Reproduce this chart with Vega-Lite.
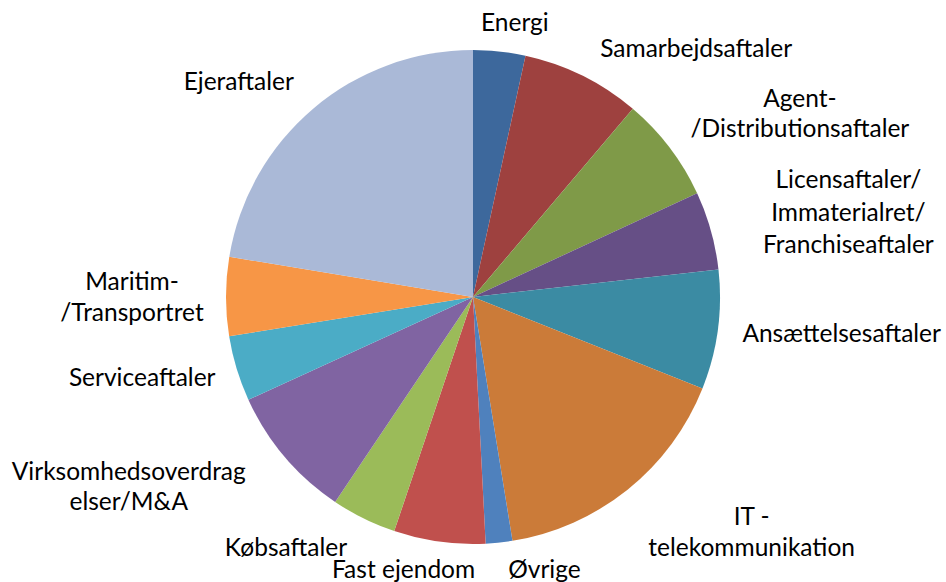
{
  "$schema": "https://vega.github.io/schema/vega-lite/v6.json",
  "width": 946,
  "height": 570,
  "padding": {"top": 12, "left": 0, "right": 0, "bottom": 0},
  "autosize": {"type": "none"},
  "background": "white",
  "config": {"view": {"stroke": null}, "text": {"font": "Lato", "fontSize": 24.5, "color": "#000000"}},
  "data": {"values": [
    {"ord": 1, "kategori": "Energi", "andel": 3.41},
    {"ord": 2, "kategori": "Samarbejdsaftaler", "andel": 7.79},
    {"ord": 3, "kategori": "Agent-\n/Distributionsaftaler", "andel": 6.90},
    {"ord": 4, "kategori": "Licensaftaler/\nImmaterialret/\nFranchiseaftaler", "andel": 5.13},
    {"ord": 5, "kategori": "Ansættelsesaftaler", "andel": 7.81},
    {"ord": 6, "kategori": "IT -\ntelekommunikation", "andel": 16.41},
    {"ord": 7, "kategori": "Øvrige", "andel": 1.74},
    {"ord": 8, "kategori": "Fast ejendom", "andel": 5.98},
    {"ord": 9, "kategori": "Købsaftaler", "andel": 4.26},
    {"ord": 10, "kategori": "Virksomhedsoverdrag\nelser/M&A", "andel": 8.75},
    {"ord": 11, "kategori": "Serviceaftaler", "andel": 4.28},
    {"ord": 12, "kategori": "Maritim-\n/Transportret", "andel": 5.15},
    {"ord": 13, "kategori": "Ejeraftaler", "andel": 22.40}
  ]},
  "encoding": {
    "theta": {"field": "andel", "type": "quantitative", "stack": true},
    "order": {"field": "ord", "type": "quantitative"}
  },
  "layer": [
    {
      "mark": {"type": "arc", "outerRadius": 247},
      "encoding": {
        "color": {
          "field": "ord", "type": "ordinal", "legend": null,
          "scale": {"domain": [1,2,3,4,5,6,7,8,9,10,11,12,13],
            "range": ["#3D689C", "#9E413F", "#7F9A48", "#664F86", "#3B8BA3", "#CB7B39", "#4F81BD", "#C0504D", "#9BBB59", "#8064A2", "#4BACC6", "#F79646", "#AAB9D7"]}
        }
      }
    },
    {"mark": {"type": "text", "radius": 260, "align": "center", "baseline": "alphabetic", "lineBreak": "\n", "lineHeight": 31, "dx": 14, "dy": -7},
     "encoding": {"text": {"condition": {"test": "datum.ord == 1", "field": "kategori"}, "value": ""}}},
    {"mark": {"type": "text", "radius": 260, "align": "center", "baseline": "alphabetic", "lineBreak": "\n", "lineHeight": 31, "dx": 108, "dy": -7},
     "encoding": {"text": {"condition": {"test": "datum.ord == 2", "field": "kategori"}, "value": ""}}},
    {"mark": {"type": "text", "radius": 260, "align": "center", "baseline": "alphabetic", "lineBreak": "\n", "lineHeight": 30, "dx": 120, "dy": -33},
     "encoding": {"text": {"condition": {"test": "datum.ord == 3", "field": "kategori"}, "value": ""}}},
    {"mark": {"type": "text", "radius": 260, "align": "center", "baseline": "alphabetic", "lineBreak": "\n", "lineHeight": 32.5, "dx": 125, "dy": -39},
     "encoding": {"text": {"condition": {"test": "datum.ord == 4", "field": "kategori"}, "value": ""}}},
    {"mark": {"type": "text", "radius": 260, "align": "center", "baseline": "alphabetic", "lineBreak": "\n", "lineHeight": 31, "dx": 111, "dy": 10},
     "encoding": {"text": {"condition": {"test": "datum.ord == 5", "field": "kategori"}, "value": ""}}},
    {"mark": {"type": "text", "radius": 260, "align": "center", "baseline": "alphabetic", "lineBreak": "\n", "lineHeight": 31.5, "dx": 116, "dy": 25},
     "encoding": {"text": {"condition": {"test": "datum.ord == 6", "field": "kategori"}, "value": ""}}},
    {"mark": {"type": "text", "radius": 260, "align": "center", "baseline": "alphabetic", "lineBreak": "\n", "lineHeight": 31, "dx": 44, "dy": 22},
     "encoding": {"text": {"condition": {"test": "datum.ord == 7", "field": "kategori"}, "value": ""}}},
    {"mark": {"type": "text", "radius": 260, "align": "center", "baseline": "alphabetic", "lineBreak": "\n", "lineHeight": 31, "dx": -34, "dy": 23},
     "encoding": {"text": {"condition": {"test": "datum.ord == 8", "field": "kategori"}, "value": ""}}},
    {"mark": {"type": "text", "radius": 260, "align": "center", "baseline": "alphabetic", "lineBreak": "\n", "lineHeight": 31, "dx": -72, "dy": 26},
     "encoding": {"text": {"condition": {"test": "datum.ord == 9", "field": "kategori"}, "value": ""}}},
    {"mark": {"type": "text", "radius": 260, "align": "center", "baseline": "alphabetic", "lineBreak": "\n", "lineHeight": 30, "dx": -146, "dy": 15},
     "encoding": {"text": {"condition": {"test": "datum.ord == 10", "field": "kategori"}, "value": ""}}},
    {"mark": {"type": "text", "radius": 260, "align": "center", "baseline": "alphabetic", "lineBreak": "\n", "lineHeight": 31, "dx": -82, "dy": 14},
     "encoding": {"text": {"condition": {"test": "datum.ord == 11", "field": "kategori"}, "value": ""}}},
    {"mark": {"type": "text", "radius": 260, "align": "center", "baseline": "alphabetic", "lineBreak": "\n", "lineHeight": 31.5, "dx": -81, "dy": -7},
     "encoding": {"text": {"condition": {"test": "datum.ord == 12", "field": "kategori"}, "value": ""}}},
    {"mark": {"type": "text", "radius": 260, "align": "center", "baseline": "alphabetic", "lineBreak": "\n", "lineHeight": 31, "dx": -66, "dy": -9},
     "encoding": {"text": {"condition": {"test": "datum.ord == 13", "field": "kategori"}, "value": ""}}}
  ]
}
